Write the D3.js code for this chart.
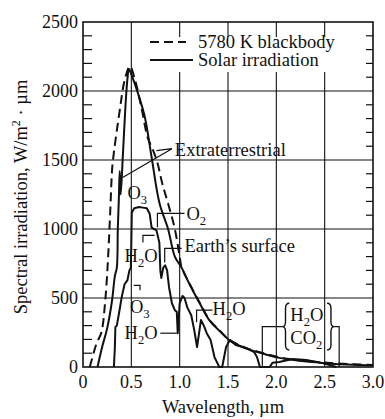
<!DOCTYPE html>
<html>
<head>
<meta charset="utf-8">
<script src="https://cdn.jsdelivr.net/npm/d3@7/dist/d3.min.js"></script>
<style>
  body { margin: 0; background: #fff; }
  svg text { font-family: "Liberation Serif", "Times New Roman", serif; fill: #111; }
</style>
</head>
<body>
<svg id="chart" width="385" height="419"></svg>
<script>
// wavelength (um), spectral irradiation (W/m^2.um)
const blackbody = [
  [0.07, 0], [0.14, 170], [0.19, 250], [0.23, 480], [0.26, 800], [0.28, 1100],
  [0.30, 1420], [0.31, 1500], [0.38, 1860], [0.43, 2075], [0.485, 2180],
  [0.54, 2075], [0.61, 1860], [0.67, 1660], [0.72, 1580], [0.77, 1480],
  [0.82, 1330], [0.88, 1185], [0.95, 1000], [1.0, 800], [1.02, 722],
  [1.1, 607], [1.21, 462], [1.31, 340], [1.41, 267], [1.52, 195], [1.69, 137],
  [1.86, 101], [2.03, 70], [2.2, 52], [2.5, 32], [2.8, 20], [3.0, 15]
];
const extraterrestrial = [
  [0.15, 0], [0.2, 150], [0.25, 280], [0.3, 480], [0.33, 660], [0.35, 720],
  [0.36, 1000], [0.37, 1200], [0.38, 1420], [0.39, 1250], [0.41, 1500],
  [0.44, 1900], [0.46, 2090], [0.475, 2160], [0.5, 2120], [0.57, 1980],
  [0.64, 1810], [0.71, 1520], [0.79, 1190], [0.88, 1000], [0.95, 800],
  [1.02, 720], [1.1, 603], [1.21, 458], [1.31, 336], [1.41, 263], [1.52, 191],
  [1.69, 133], [1.86, 97], [2.03, 66], [2.2, 48], [2.5, 28], [2.8, 16], [3.0, 12]
];
const earthSurface = [
  [0.32, 0], [0.33, 150], [0.335, 290], [0.35, 300], [0.38, 420], [0.40, 505],
  [0.43, 600], [0.46, 630], [0.48, 700], [0.495, 720], [0.50, 900], [0.505, 1120],
  [0.53, 1150], [0.58, 1160], [0.62, 1155], [0.66, 1150], [0.69, 1110],
  [0.71, 1010], [0.76, 990], [0.79, 900], [0.80, 700], [0.81, 645], [0.83, 720],
  [0.85, 737], [0.87, 700], [0.89, 578], [0.92, 462], [0.95, 412], [0.97, 400],
  [0.98, 245], [1.0, 462], [1.03, 515], [1.05, 500], [1.08, 430], [1.12, 375],
  [1.15, 270], [1.18, 145], [1.22, 340], [1.25, 300], [1.28, 245], [1.32, 195],
  [1.36, 72], [1.41, 0], [1.44, 0], [1.48, 145], [1.52, 195], [1.58, 160],
  [1.69, 137], [1.77, 108], [1.80, 72], [1.83, 0], [1.93, 0], [1.96, 30],
  [2.03, 36], [2.17, 58], [2.31, 50], [2.47, 30], [2.62, 0]
];
const xTicks = [0, 0.5, 1.0, 1.5, 2.0, 2.5, 3.0];
const yTicks = [0, 500, 1000, 1500, 2000, 2500];

const svg = d3.select('#chart');
const x = d3.scaleLinear().domain([0, 3]).range([83, 373]);
const y = d3.scaleLinear().domain([0, 2500]).range([367, 22]);

// grid
const grid = svg.append('g').attr('stroke', '#111').attr('stroke-width', 1.1);
grid.selectAll('.vg').data(xTicks.slice(1, -1)).join('line')
  .attr('x1', d => x(d)).attr('x2', d => x(d))
  .attr('y1', y(0)).attr('y2', y(2500));
grid.selectAll('.hg').data(yTicks.slice(1, -1)).join('line')
  .attr('x1', x(0)).attr('x2', x(3))
  .attr('y1', d => y(d)).attr('y2', d => y(d));

// minor ticks every 100 on both sides
const minor = d3.range(100, 2500, 100).filter(d => d % 500 !== 0);
const ticks = svg.append('g').attr('stroke', '#111').attr('stroke-width', 1.2);
ticks.selectAll('.tl').data(minor).join('line')
  .attr('x1', x(0)).attr('x2', x(0) + 9)
  .attr('y1', d => y(d)).attr('y2', d => y(d));
ticks.selectAll('.tr').data(minor).join('line')
  .attr('x1', x(3)).attr('x2', x(3) - 7)
  .attr('y1', d => y(d)).attr('y2', d => y(d));

// frame
svg.append('rect')
  .attr('x', x(0)).attr('y', y(2500))
  .attr('width', x(3) - x(0)).attr('height', y(0) - y(2500))
  .attr('fill', 'none').attr('stroke', '#111').attr('stroke-width', 1.6);

// tick labels
svg.append('g').selectAll('text').data(yTicks).join('text')
  .attr('x', x(0) - 5).attr('y', d => y(d)).attr('dy', '0.35em')
  .attr('text-anchor', 'end').attr('font-size', 18)
  .text(d => d);
svg.append('g').selectAll('text').data(xTicks).join('text')
  .attr('x', d => x(d)).attr('y', 388)
  .attr('text-anchor', 'middle').attr('font-size', 18)
  .text(d => d === 0 ? '0' : d.toFixed(1));

// axis titles
svg.append('text')
  .attr('x', 223).attr('y', 413).attr('text-anchor', 'middle').attr('font-size', 18.5)
  .text('Wavelength, \u00b5m');
const yt = svg.append('text')
  .attr('transform', 'translate(27,197) rotate(-90)')
  .attr('text-anchor', 'middle').attr('font-size', 18.5);
yt.append('tspan').text('Spectral irradiation, W/m');
yt.append('tspan').attr('font-size', 12).attr('dy', -7).text('2');
yt.append('tspan').attr('dy', 7).text(' \u00b7 \u00b5m');

// curves
const line = d3.line().x(d => x(d[0])).y(d => y(d[1]));
const smooth = d3.line().x(d => x(d[0])).y(d => y(d[1])).curve(d3.curveCatmullRom.alpha(0.5));
const curves = svg.append('g').attr('fill', 'none').attr('stroke', '#111')
  .attr('stroke-linejoin', 'round');
curves.append('path').datum(extraterrestrial).attr('d', smooth).attr('stroke-width', 2);
curves.append('path').datum(earthSurface).attr('d', line).attr('stroke-width', 2);
curves.append('path').datum(blackbody).attr('d', smooth).attr('stroke-width', 2)
  .attr('stroke-dasharray', '9,5');

// legend
const lg = svg.append('g');
lg.append('rect').attr('x', 146).attr('y', 37).attr('width', 200).attr('height', 35).attr('fill', '#fff');
lg.append('line').attr('x1', 150).attr('x2', 186).attr('y1', 42).attr('y2', 42)
  .attr('stroke', '#111').attr('stroke-width', 2).attr('stroke-dasharray', '9,5');
lg.append('line').attr('x1', 150).attr('x2', 193).attr('y1', 60).attr('y2', 60)
  .attr('stroke', '#111').attr('stroke-width', 2);
lg.append('text').attr('x', 198).attr('y', 48).attr('font-size', 18.5).text('5780 K blackbody');
lg.append('text').attr('x', 198).attr('y', 66).attr('font-size', 18.5).text('Solar irradiation');

// annotations (positions in data units)
const ann = svg.append('g').attr('fill', 'none').attr('stroke', '#111').attr('stroke-width', 1.2);
const poly = pts => ann.append('path').attr('d', d3.line().x(d => x(d[0])).y(d => y(d[1]))(pts));
poly([[0.41, 1373], [0.92, 1582], [0.76, 1568]]);
poly([[0.77, 1012], [0.77, 1113], [1.05, 1113]]);
poly([[0.62, 903], [0.62, 954], [0.74, 954]]);
poly([[0.845, 758], [0.845, 860], [1.02, 860]]);
poly([[0.525, 592], [0.59, 592], [0.59, 556]]);
poly([[0.80, 245], [0.97, 245]]);
poly([[1.175, 325], [1.175, 412], [1.34, 412]]);
poly([[1.855, 0], [1.855, 292], [2.06, 292]]);
poly([[2.6, 292], [2.65, 292], [2.65, 0]]);

// curly braces round the H2O / CO2 label
const brace = (tip, spine, end, top, bottom) => {
  const xs = x(spine), xt = x(tip), xe = x(end);
  const y0 = y(top), y1 = y(bottom), ym = (y0 + y1) / 2, r = 5;
  const p = d3.path();
  p.moveTo(xe, y0);
  p.quadraticCurveTo(xs, y0, xs, y0 + r);
  p.lineTo(xs, ym - r);
  p.quadraticCurveTo(xs, ym, xt, ym);
  p.quadraticCurveTo(xs, ym, xs, ym + r);
  p.lineTo(xs, y1 - r);
  p.quadraticCurveTo(xs, y1, xe, y1);
  ann.append('path').attr('d', p.toString()).attr('stroke-width', 1.4);
};
brace(2.06, 2.095, 2.135, 462, 123);
brace(2.6, 2.565, 2.525, 462, 123);

const label = (lx, ly, parts, size = 18.5) => {
  const t = svg.append('text').attr('x', x(lx)).attr('y', y(ly)).attr('font-size', size);
  parts.forEach(p => {
    if (p.sub) t.append('tspan').attr('font-size', size * 0.68).attr('dy', 5).text(p.sub);
    else t.append('tspan').attr('dy', p.after ? -5 : 0).text(p.t);
  });
  return t;
};
label(0.95, 1532, [{ t: 'Extraterrestrial' }]);
label(0.46, 1215, [{ t: 'O' }, { sub: '3' }]);
label(1.07, 1062, [{ t: 'O' }, { sub: '2' }]);
label(0.43, 760, [{ t: 'H' }, { sub: '2' }, { t: 'O', after: true }]);
label(1.05, 831, [{ t: 'Earth\u2019s surface' }]);
label(0.485, 390, [{ t: 'O' }, { sub: '3' }]);
label(0.43, 200, [{ t: 'H' }, { sub: '2' }, { t: 'O', after: true }]);
label(1.34, 380, [{ t: 'H' }, { sub: '2' }, { t: 'O', after: true }]);
label(2.145, 336, [{ t: 'H' }, { sub: '2' }, { t: 'O', after: true }]);
label(2.145, 170, [{ t: 'CO' }, { sub: '2' }]);
</script>
</body>
</html>
